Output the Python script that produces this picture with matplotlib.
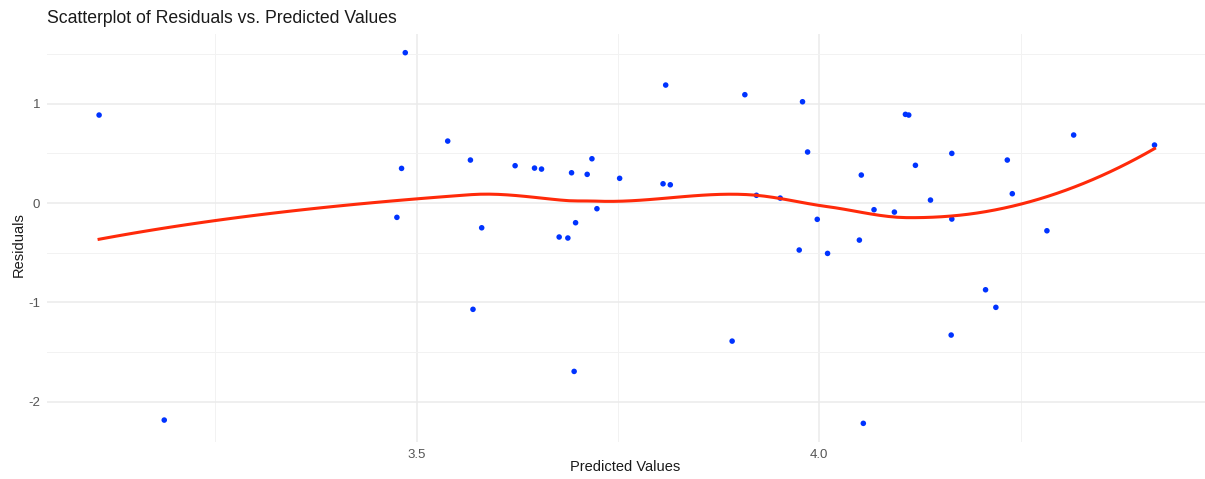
import numpy as np
import matplotlib.pyplot as plt

plt.rcParams['font.family'] = ['Liberation Sans', 'DejaVu Sans']
plt.rcParams['axes.unicode_minus'] = False

# fitted values and residuals of the model
predicted = [3.1057, 3.1866, 3.4859, 3.4813, 3.4755, 3.5386, 3.5668, 3.5700,
             3.5808, 3.6223, 3.6464, 3.6551, 3.6770, 3.6878, 3.6924, 3.6974,
             3.6956, 3.7118, 3.7177, 3.7239, 3.7521, 3.8060, 3.8150, 3.8093,
             3.8918, 3.9076, 3.9220, 3.9515, 3.9751, 3.9792, 3.9855, 3.9975,
             4.0103, 4.0498, 4.0522, 4.0547, 4.0680, 4.0933, 4.1070, 4.1111,
             4.1194, 4.1381, 4.1646, 4.1646, 4.1638, 4.2065, 4.2193, 4.2335,
             4.2397, 4.2827, 4.3159, 4.4163]
residuals = [0.886, -2.185, 1.514, 0.349, -0.144, 0.624, 0.433, -1.070,
             -0.249, 0.376, 0.352, 0.342, -0.342, -0.352, 0.305, -0.198,
             -1.695, 0.289, 0.446, -0.057, 0.249, 0.194, 0.184, 1.188,
             -1.390, 1.091, 0.078, 0.050, -0.473, 1.020, 0.514, -0.164,
             -0.507, -0.373, 0.282, -2.218, -0.067, -0.091, 0.893, 0.886,
             0.380, 0.030, 0.500, -0.161, -1.329, -0.873, -1.050, 0.433,
             0.094, -0.279, 0.685, 0.584]

x_ticks = [3.5, 4.0]
x_tick_labels = ['3.5', '4.0']
y_ticks = [-2, -1, 0, 1]


def local_fit(x, y, x0, span=0.75):
    # weighted quadratic around x0, tricube weights -> (value, slope)
    n = len(x)
    q = int(np.floor(n * span))
    d = np.abs(x - x0)
    h = np.sort(d)[q - 1]
    w = np.clip(1 - (d / h) ** 3, 0, None) ** 3
    X = np.column_stack([np.ones(n), x - x0, (x - x0) ** 2])
    W = np.sqrt(w)
    beta = np.linalg.lstsq(X * W[:, None], y * W, rcond=None)[0]
    return beta[0], beta[1]


def kd_vertices(xs, lo, hi, fc):
    pts = xs[(xs >= lo) & (xs <= hi)]
    if len(pts) <= fc:
        return [lo, hi]
    m = np.median(pts)
    return kd_vertices(xs, lo, m, fc)[:-1] + kd_vertices(xs, m, hi, fc)


def loess(x, y, grid, span=0.75, cell=0.2):
    # loess with interpolated surface: fits at kd-tree vertices,
    # cubic hermite in between
    fc = int(np.floor(len(x) * span * cell))
    pad = 0.005 * (x.max() - x.min())
    verts = np.array(kd_vertices(np.sort(x), x.min() - pad, x.max() + pad, fc))
    fits = np.array([local_fit(x, y, v, span) for v in verts])
    out = []
    for g in grid:
        i = min(np.searchsorted(verts, g, side='right') - 1, len(verts) - 2)
        x0, x1 = verts[i], verts[i + 1]
        hlen = x1 - x0
        t = (g - x0) / hlen
        h00 = 2 * t ** 3 - 3 * t ** 2 + 1
        h10 = t ** 3 - 2 * t ** 2 + t
        h01 = -2 * t ** 3 + 3 * t ** 2
        h11 = t ** 3 - t ** 2
        out.append(h00 * fits[i, 0] + h10 * hlen * fits[i, 1]
                   + h01 * fits[i + 1, 0] + h11 * hlen * fits[i + 1, 1])
    return np.array(out)


x = np.array(predicted)
y = np.array(residuals)
grid = np.linspace(x.min(), x.max(), 120)
smooth = loess(x, y, grid)

fig = plt.figure(figsize=(12.05, 4.79), dpi=100)
ax = fig.add_axes([0.039, 0.077, 0.961, 0.852])

ax.set_xlim(3.041, 4.479)
ax.set_ylim(-2.407, 1.702)

ax.set_xticks(x_ticks)
ax.set_xticklabels(x_tick_labels)
ax.set_yticks(y_ticks)
ax.set_xticks([3.25, 3.75, 4.25], minor=True)
ax.set_yticks([-1.5, -0.5, 0.5, 1.5], minor=True)
ax.grid(which='major', color='#EBEBEB', linewidth=1.1)
ax.grid(which='minor', color='#F2F2F2', linewidth=0.7)
ax.set_axisbelow(True)
ax.tick_params(which='both', length=0, labelsize=9.5, labelcolor='#555555', pad=5)
for s in ax.spines.values():
    s.set_visible(False)

ax.scatter(x, y, s=16, color='#0033FF', edgecolors='none', zorder=3)
ax.plot(grid, smooth, color='#FF2A0A', linewidth=2.2, zorder=4)

fig.text(0.519, 0.025, 'Predicted Values', fontsize=10.5, color='#1A1A1A',
         ha='center', va='center')
fig.text(0.0153, 0.49, 'Residuals', fontsize=10.5, color='#1A1A1A',
         ha='center', va='center', rotation=90)
fig.text(0.039, 0.962, 'Scatterplot of Residuals vs. Predicted Values',
         fontsize=12.7, color='#1A1A1A', ha='left', va='center')

fig.savefig('out.png', dpi=100)
